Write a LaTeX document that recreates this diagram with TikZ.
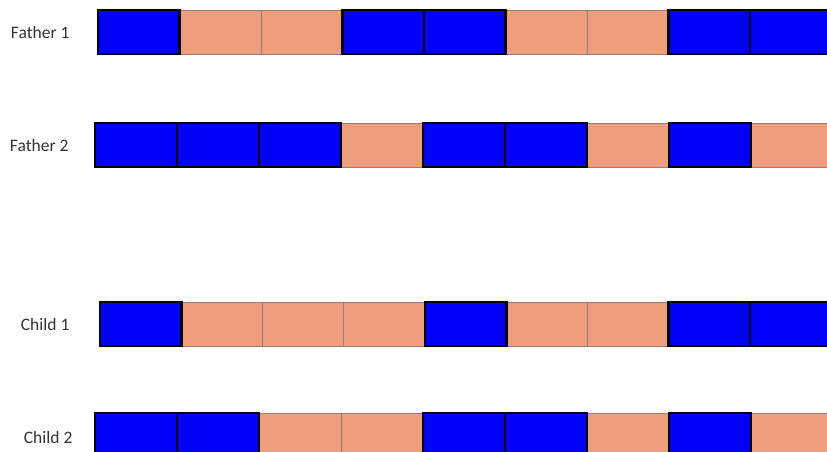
\documentclass[tikz,border=0pt]{standalone}
\usepackage{fontspec}
\setmainfont{Carlito}
\usetikzlibrary{positioning}
\definecolor{geneblue}{RGB}{0,0,250}
\definecolor{genesalmon}{RGB}{240,157,126}
\definecolor{geneedge}{RGB}{150,125,115}

\tikzset{
  gene/.style={minimum width=81.5pt, minimum height=44pt, inner sep=0pt,
    outer sep=0pt, anchor=north west},
  one/.style={gene, fill=geneblue, draw=black, line width=2.6pt},
  zero/.style={gene, fill=genesalmon, draw=geneedge, line width=0.7pt},
  tag/.style={font=\fontsize{17.5}{20}\selectfont, text=black!80}
}

\begin{document}
\begin{tikzpicture}[x=1pt, y=-1pt]
    \useasboundingbox (0,0) rectangle (827,452);
    \clip (0,0) rectangle (827,452);

    % Father 1
    \foreach \i/\s in {1/zero,2/zero,5/zero,6/zero,0/one,3/one,4/one,7/one,8/one}
      \node[\s] (f1g\i) at (98+\i*81.5,10) {};
    \node[tag, left=25pt of f1g0] (f1) {Father 1};

    % Father 2
    \foreach \i/\s in {3/zero,6/zero,8/zero,0/one,1/one,2/one,4/one,5/one,7/one}
      \node[\s, minimum width=82pt] (f2g\i) at (95+\i*82,123) {};
    \node[tag, left=23pt of f2g0] (f2) {Father 2};

    % Child 1
    \foreach \i/\s in {1/zero,2/zero,3/zero,5/zero,6/zero,0/one,4/one,7/one,8/one}
      \node[\s, minimum width=81.25pt] (c1g\i) at (100+\i*81.25,302) {};
    \node[tag, left=27pt of c1g0] (c1) {Child 1};

    % Child 2
    \foreach \i/\s in {2/zero,3/zero,6/zero,8/zero,0/one,1/one,4/one,5/one,7/one}
      \node[\s, minimum width=82pt] (c2g\i) at (95+\i*82,413) {};
    \node[tag, left=19pt of c2g0.north west, anchor=east, yshift=-24pt] (c2) {Child 2};
  \end{tikzpicture}
\end{document}
